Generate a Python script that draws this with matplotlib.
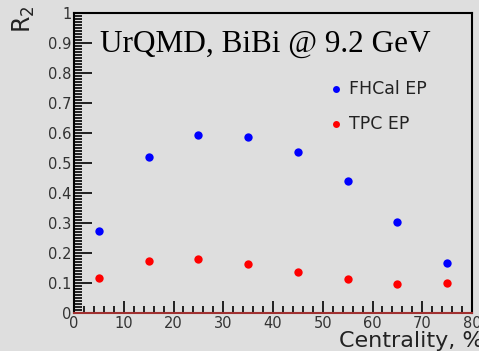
import matplotlib.pyplot as plt
from matplotlib.ticker import MultipleLocator, FuncFormatter

centrality = [5, 15, 25, 35, 45, 55, 65, 75]
fhcal_ep = [0.273, 0.520, 0.592, 0.587, 0.537, 0.440, 0.303, 0.167]
tpc_ep = [0.117, 0.174, 0.180, 0.164, 0.137, 0.113, 0.097, 0.100]

bg = "#dedede"
fig = plt.figure(figsize=(4.79, 3.51), dpi=100, facecolor=bg)
ax = fig.add_axes([0.1545, 0.108, 0.831, 0.855], facecolor=bg)

ax.plot(centrality, fhcal_ep, "o", color="#0000ff", markersize=6, markeredgewidth=0)
ax.plot(centrality, tpc_ep, "o", color="#ff0000", markersize=6, markeredgewidth=0)

ax.set_xlim(0, 80)
ax.set_ylim(0, 1)
ax.xaxis.set_major_locator(MultipleLocator(10))
ax.xaxis.set_minor_locator(MultipleLocator(2))
ax.yaxis.set_major_locator(MultipleLocator(0.1))
ax.yaxis.set_minor_locator(MultipleLocator(0.01))
ax.yaxis.set_major_formatter(FuncFormatter(lambda v, p: "%g" % round(v, 1)))
ax.tick_params(which="both", direction="in", top=False, right=False,
               labelsize=10.5, labelcolor="#333333", width=1.2, pad=2)
ax.tick_params(axis="x", which="major", length=9)
ax.tick_params(axis="x", which="minor", length=5)
ax.tick_params(axis="y", which="major", length=13)
ax.tick_params(axis="y", which="minor", length=6)

for s in ["top", "right", "left"]:
    ax.spines[s].set_color("black")
    ax.spines[s].set_linewidth(1.5)
ax.spines["bottom"].set_color("#a03030")
ax.spines["bottom"].set_linewidth(1.5)

fig.text(0.022, 0.985, "R$_2$", rotation=90, fontsize=17, ha="left", va="top", color="#222222")
fig.text(1.01, 0.012, "Centrality, %", fontsize=16, ha="right", va="baseline", color="#222222")

ax.text(0.065, 0.897, "UrQMD, BiBi @ 9.2 GeV", transform=ax.transAxes,
        fontsize=22.5, family="Liberation Serif", va="center", ha="left")

ax.plot([52.6], [0.747], "o", color="#0000ff", markersize=5, markeredgewidth=0)
ax.text(55.3, 0.747, "FHCal EP", fontsize=12.5, va="center", color="#222222")
ax.plot([52.6], [0.630], "o", color="#ff0000", markersize=5, markeredgewidth=0)
ax.text(55.3, 0.630, "TPC EP", fontsize=12.5, va="center", color="#222222")

fig.savefig("out.png", dpi=100, facecolor=bg)
